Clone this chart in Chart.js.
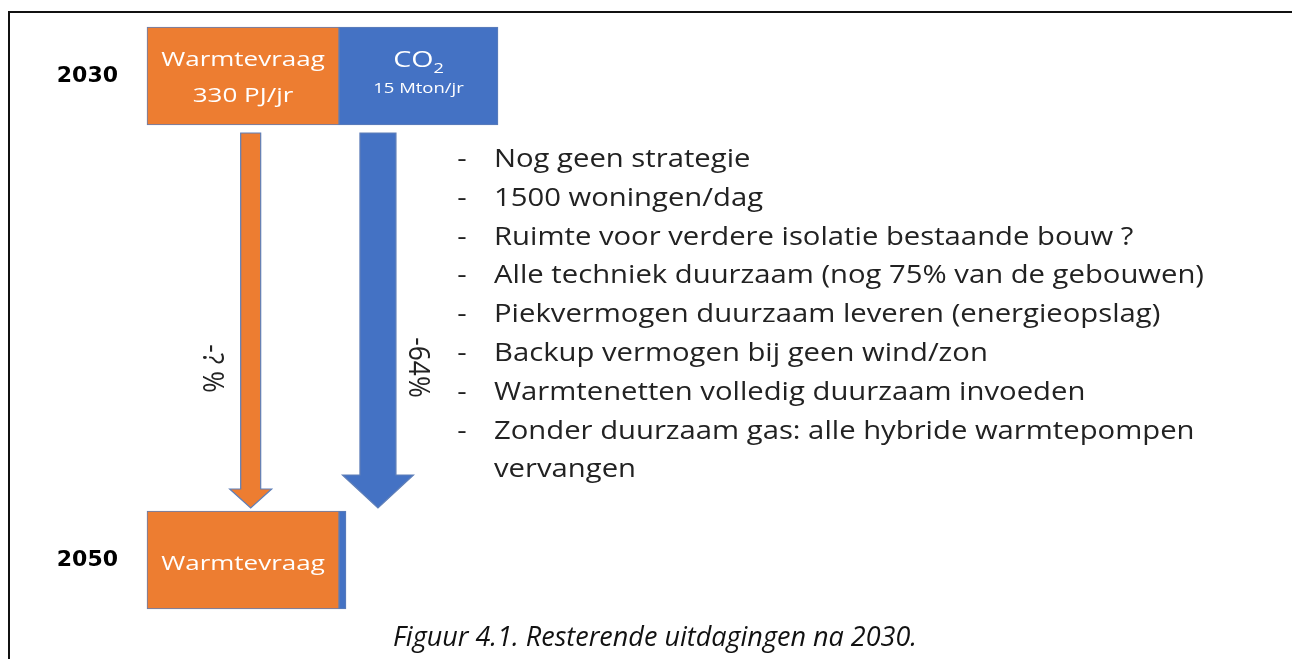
<!DOCTYPE html>
<html>
<head>
<meta charset="utf-8">
<script src="https://cdn.jsdelivr.net/npm/chart.js@4"></script>
<style>
  body { margin: 0; background: #fff; }
  #wrap { position: relative; width: 1292px; height: 659px; overflow: hidden; }
  #frame { position: absolute; left: 8px; top: 11px; right: -20px; bottom: -20px;
           border-top: 2px solid #111; border-left: 2px solid #111; }
  #chart { position: absolute; left: 0; top: 0; }
</style>
</head>
<body>
<div id="wrap">
  <div id="frame"></div>
  <canvas id="chart" width="1292" height="659"></canvas>
</div>
<script>
// ── Data ─────────────────────────────────────────────────────────────────────

const years        = ['2030', '2050'];
const warmteBox    = [192, 192];     // box lengths
const co2Box       = [159, 7];
const warmteLabels = [['Warmtevraag', '330 PJ/jr'], ['Warmtevraag']];
const co2Name      = ['CO', null];
const co2Sub       = ['2', null];
const co2Value     = ['15 Mton/jr', null];
const changeLabels = ['-? %', '-64%'];   // warmtevraag, CO2
const challenges = [
    ['Nog geen strategie'],
    ['1500 woningen/dag'],
    ['Ruimte voor verdere isolatie bestaande bouw ?'],
    ['Alle techniek duurzaam (nog 75% van de gebouwen)'],
    ['Piekvermogen duurzaam leveren (energieopslag)'],
    ['Backup vermogen bij geen wind/zon'],
    ['Warmtenetten volledig duurzaam invoeden'],
    ['Zonder duurzaam gas: alle hybride warmtepompen', 'vervangen'],
];
const caption = 'Figuur 4.1. Resterende uitdagingen na 2030.';

// ── Styles ───────────────────────────────────────────────────────────────────

const ORANGE  = '#ED7D31';
const BLUE    = '#4472C4';
const OUTLINE = '#5F7FB8';
const FONT    = '"Open Sans", "Noto Sans", sans-serif';
const STRETCH = 1.3;   // the figure is drawn wide

function drawText(ctx, s, x, y, o) {
    ctx.save();
    ctx.font = `${o.style || 'normal'} ${o.weight || 'normal'} ${o.size}px ${FONT}`;
    const w = ctx.measureText(s).width;
    const sx = o.width ? o.width / w : (o.sx || STRETCH);
    ctx.translate(x, y);
    ctx.scale(sx, 1);
    ctx.textAlign = o.align || 'center';
    ctx.textBaseline = 'alphabetic';
    ctx.fillStyle = o.color || '#222';
    ctx.fillText(s, 0, 0);
    ctx.restore();
    return w * sx;
}

function drawArrow(ctx, cx, top, tip, shaftW, headW, headH, fill) {
    const hb = tip - headH;
    ctx.save();
    ctx.beginPath();
    ctx.moveTo(cx - shaftW / 2, top);
    ctx.lineTo(cx + shaftW / 2, top);
    ctx.lineTo(cx + shaftW / 2, hb);
    ctx.lineTo(cx + headW / 2, hb);
    ctx.lineTo(cx, tip);
    ctx.lineTo(cx - headW / 2, hb);
    ctx.lineTo(cx - shaftW / 2, hb);
    ctx.closePath();
    ctx.fillStyle = fill;
    ctx.fill();
    ctx.lineWidth = 1.2;
    ctx.strokeStyle = OUTLINE;
    ctx.stroke();
    ctx.restore();
}

function drawRotated(ctx, s, cx, cy, size) {
    ctx.save();
    ctx.font = `${size}px ${FONT}`;
    ctx.translate(cx, cy);
    ctx.rotate(Math.PI / 2);
    ctx.scale(1.15, STRETCH);
    ctx.textAlign = 'center';
    ctx.textBaseline = 'middle';
    ctx.fillStyle = '#222';
    ctx.fillText(s, 0, 0);
    ctx.restore();
}

// ── Diagram plugin: box texts, arrows, list ──────────────────────────────────

const diagramPlugin = {
    id: 'diagram',
    afterDatasetsDraw(chart) {
        const ctx = chart.ctx;
        const warm = chart.getDatasetMeta(0).data;
        const co2  = chart.getDatasetMeta(1).data;

        // labels inside the boxes
        warm.forEach((bar, i) => {
            const cx = (bar.base + bar.x) / 2;
            const lines = warmteLabels[i];
            const offs = lines.length > 1 ? [-10, 26] : [10];
            lines.forEach((t, k) =>
                drawText(ctx, t, cx, bar.y + offs[k], { size: 20, color: '#fff' }));
        });
        co2.forEach((bar, i) => {
            if (!co2Name[i]) return;
            const cx = (bar.base + bar.x) / 2;
            ctx.save();
            ctx.font = `22px ${FONT}`;
            const wMain = ctx.measureText(co2Name[i]).width * STRETCH;
            ctx.font = `14px ${FONT}`;
            const wSub = ctx.measureText(co2Sub[i]).width * STRETCH;
            ctx.restore();
            const left = cx - (wMain + wSub) / 2;
            drawText(ctx, co2Name[i], left, bar.y - 9, { size: 22, color: '#fff', align: 'left' });
            drawText(ctx, co2Sub[i], left + wMain, bar.y - 3, { size: 14, color: '#fff', align: 'left' });
            drawText(ctx, co2Value[i], cx, bar.y + 17, { size: 14, color: '#fff', sx: 1.32 });
        });

        // arrows from the 2030 boxes down to the 2050 box
        const top = warm[0].y + warm[0].height / 2 + 8;
        const tip = warm[1].y - warm[1].height / 2 - 3;
        const wa = warm[0].base + (warm[0].x - warm[0].base) * 0.54;
        const ca = co2[0].base + (co2[0].x - co2[0].base) * 0.245;
        drawArrow(ctx, wa, top, tip, 20, 42, 19, ORANGE);
        drawArrow(ctx, ca, top, tip, 36, 71, 33, BLUE);
        const midY = (top + tip) / 2 + 48;
        drawRotated(ctx, changeLabels[0], wa - 39, midY, 23);
        drawRotated(ctx, changeLabels[1], ca + 40, midY - 1, 23);

        // list of remaining challenges
        ctx.save();
        ctx.font = `25px ${FONT}`;
        const longest = challenges.flat().reduce((a, b) =>
            ctx.measureText(b).width > ctx.measureText(a).width ? b : a);
        const sx = 710 / ctx.measureText(longest).width;
        ctx.restore();
        let row = 0;
        challenges.forEach(item => {
            item.forEach((t, k) => {
                const y = 167 + row * 38.8;
                if (k === 0) drawText(ctx, '-', 462, y, { size: 25, sx: sx });
                drawText(ctx, t, 494, y, { size: 25, sx: sx, align: 'left' });
                row++;
            });
        });
    }
};

// ── Chart ────────────────────────────────────────────────────────────────────

const ctx = document.getElementById('chart').getContext('2d');
new Chart(ctx, {
    type: 'bar',
    data: {
        labels: years,
        datasets: [
            {
                label: 'Warmtevraag',
                data: warmteBox,
                backgroundColor: ORANGE,
                borderColor: OUTLINE,
                borderWidth: 1,
                borderSkipped: false,
                barThickness: 98,
                clip: false,
            },
            {
                label: 'CO2',
                data: co2Box,
                backgroundColor: BLUE,
                borderColor: OUTLINE,
                borderWidth: 1,
                borderSkipped: false,
                barThickness: 98,
                clip: false,
            }
        ]
    },
    options: {
        indexAxis: 'y',
        responsive: false,
        animation: false,
        layout: { padding: { top: 76, left: 18, right: 0, bottom: 0 } },
        scales: {
            x: { stacked: true, display: false, min: 0, max: 1145 },
            y: {
                stacked: true,
                offset: false,
                grid: { display: false },
                border: { display: false },
                ticks: {
                    padding: 21,
                    color: '#000',
                    font: { family: 'DejaVu Sans', weight: 'bold', size: 22 }
                },
                afterFit: s => { s.width = 129; }
            }
        },
        plugins: {
            legend: { display: false },
            tooltip: { enabled: false },
            title: {
                display: true,
                position: 'bottom',
                text: caption,
                color: '#111',
                font: { family: 'Open Sans', style: 'italic', weight: 'normal', size: 27 },
                padding: { top: 61.8, bottom: 4.8 }
            }
        }
    },
    plugins: [diagramPlugin]
});
</script>
</body>
</html>
